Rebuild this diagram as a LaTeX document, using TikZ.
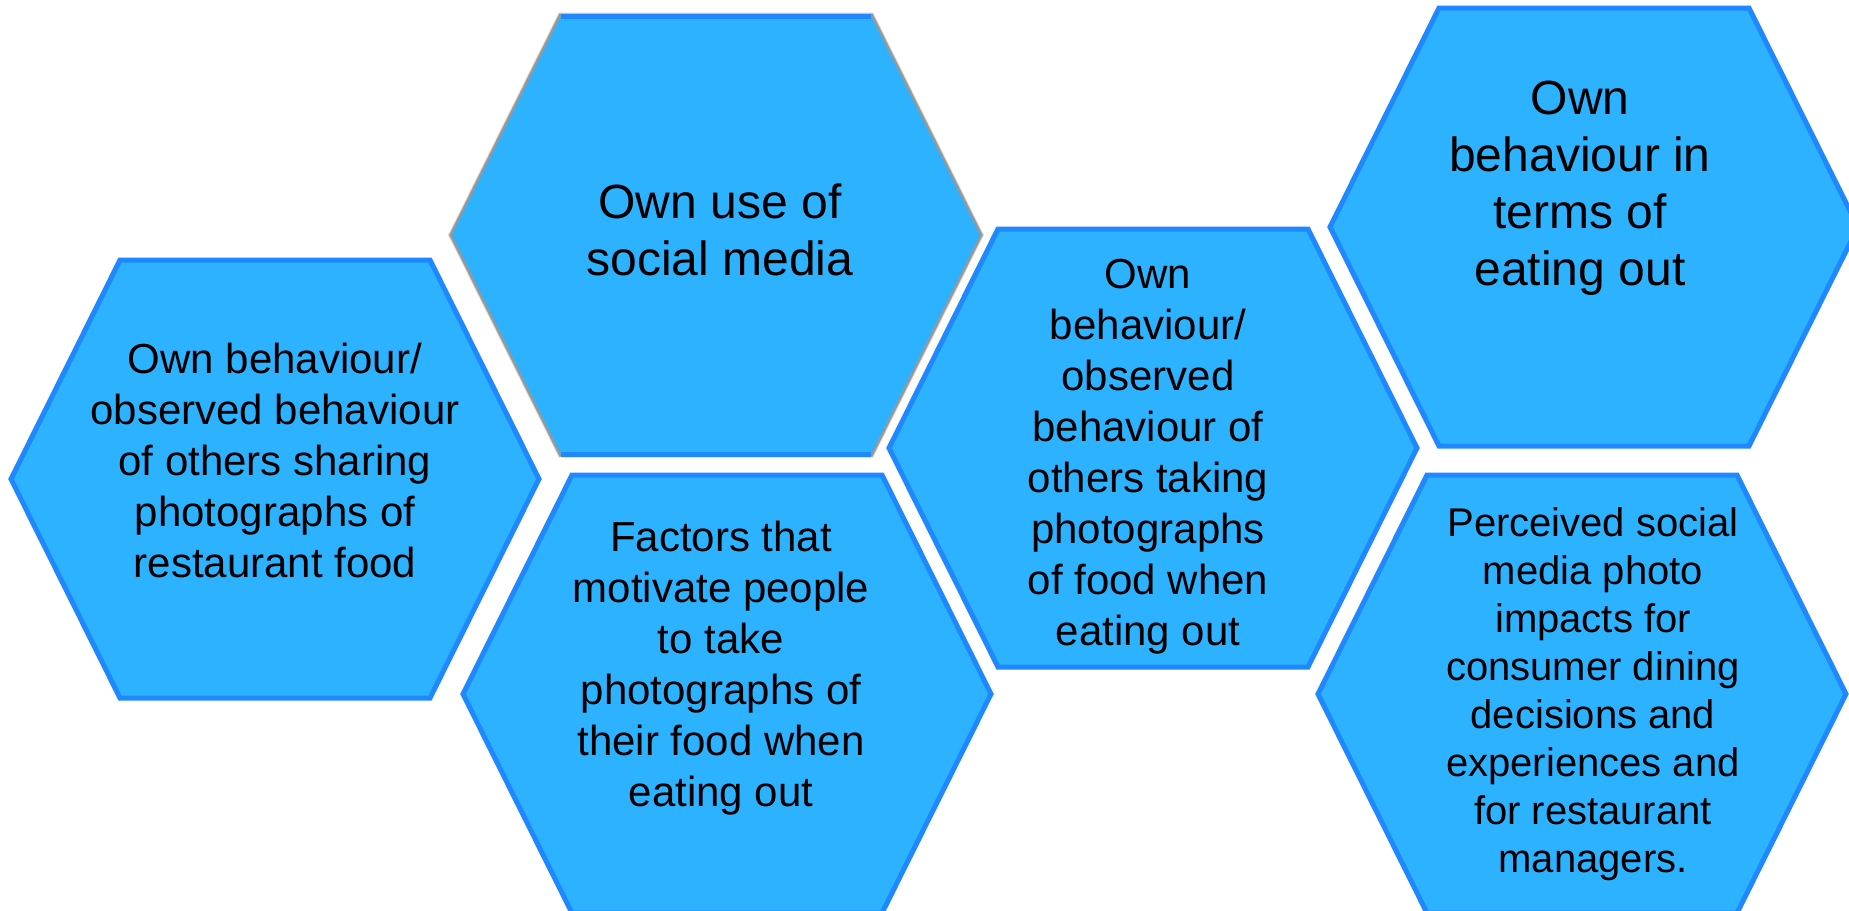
\documentclass[tikz,border=0pt]{standalone}
\usepackage{fontspec}
\setmainfont{Liberation Sans}
\definecolor{hexfill}{RGB}{45,178,255}
\definecolor{hexline}{RGB}{32,136,255}
\definecolor{hexshade}{RGB}{100,100,100}

% flat-topped hexagon centred on (#1,#2): half width 264, half height 219
\newcommand{\hexcellpath}[2]{(#1,#2) ++(-264,0) -- ++(109,-219) -- ++(310,0) -- ++(109,219) -- ++(-109,219) -- ++(-310,0) -- cycle}

\begin{document}
\begin{tikzpicture}[x=1pt,y=-1pt,
  hexcell/.style={fill=hexfill,draw=hexline,line width=5pt,line join=miter},
  caption/.style={align=center,inner sep=0pt,anchor=base,text=black},
  capmid/.style={caption,font=\fontsize{42}{51}\selectfont},
  capbig/.style={caption,font=\fontsize{48}{57}\selectfont},
  capsmall/.style={caption,font=\fontsize{40}{48}\selectfont}]
\useasboundingbox (0,0) rectangle (1849,910);

% hexagon cells
\draw[hexcell] \hexcellpath{275}{479};
\draw[hexcell] \hexcellpath{727}{694};
\draw[hexcell] \hexcellpath{1153}{448};
\draw[hexcell] \hexcellpath{1594}{227};
\draw[hexcell] \hexcellpath{1582}{694};

% the upper middle cell has a soft grey rim on its slanted sides
\draw[hexshade,line width=7pt,opacity=.25] \hexcellpath{716}{235};
\draw[hexshade,line width=5pt,opacity=.55] \hexcellpath{716}{235};
\fill[hexfill] \hexcellpath{716}{235};
\draw[hexline,line width=5pt] (716,235) ++(-155,-219) -- ++(310,0);
\draw[hexline,line width=5pt] (716,235) ++(-155,219) -- ++(310,0);

% captions, each placed by the baseline of its last line
\node[capmid] (sharing) at (275,577)
  {Own behaviour/\\observed behaviour\\of others sharing\\photographs of\\restaurant food};
\node[capbig] (socialmedia) at (720,275)
  {Own use of\\social media};
\node[capmid] (motives) at (721,806)
  {Factors that\\motivate people\\to take\\photographs of\\their food when\\eating out};
\node[capmid] (taking) at (1148,645)
  {Own\\behaviour/\\observed\\behaviour of\\others taking\\photographs\\of food when\\eating out};
\node[capbig] (eatingout) at (1580,285)
  {Own\\behaviour in\\terms of\\eating out};
\node[capsmall] (impacts) at (1593,872)
  {Perceived social\\media photo\\impacts for\\consumer dining\\decisions and\\experiences and\\for restaurant\\managers.};
\end{tikzpicture}
\end{document}
